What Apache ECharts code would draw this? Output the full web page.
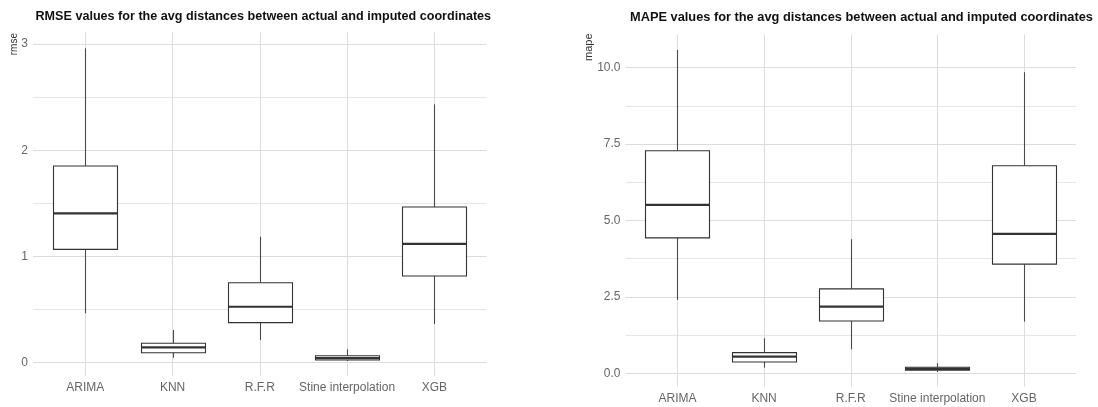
<!DOCTYPE html>
<html><head><meta charset="utf-8">
<script src="https://cdn.jsdelivr.net/npm/echarts@6/dist/echarts.min.js"></script>
<style>html,body{margin:0;padding:0;background:#fff}#c{width:1098px;height:407px}</style>
</head><body><div id="c"></div>
<script>
const categories = ['ARIMA', 'KNN', 'R.F.R', 'Stine interpolation', 'XGB'];
// each row: [lower whisker, Q1, median, Q3, upper whisker]
const rmseStats = [
  [0.465, 1.067, 1.406, 1.852, 2.96],
  [0.047, 0.094, 0.145, 0.183, 0.308],
  [0.214, 0.377, 0.527, 0.753, 1.186],
  [0.016, 0.025, 0.044, 0.066, 0.126],
  [0.364, 0.816, 1.118, 1.466, 2.432]
];
const mapeStats = [
  [2.40, 4.43, 5.51, 7.28, 10.58],
  [0.183, 0.37, 0.543, 0.674, 1.145],
  [0.785, 1.71, 2.18, 2.76, 4.385],
  [0.04, 0.098, 0.14, 0.196, 0.327],
  [1.69, 3.57, 4.56, 6.79, 9.85]
];
const rmseMajorTicks = [0, 1, 2, 3];
const rmseTickLabels = ['0', '1', '2', '3'];
const rmseMinorTicks = [0.5, 1.5, 2.5];
const mapeMajorTicks = [0, 2.5, 5, 7.5, 10];
const mapeTickLabels = ['0.0', '2.5', '5.0', '7.5', '10.0'];
const mapeMinorTicks = [1.25, 3.75, 6.25, 8.75];
const chartTitles = [
  'RMSE values for the avg distances between actual and imputed coordinates',
  'MAPE values for the avg distances between actual and imputed coordinates'
];
const yNames = ['rmse', 'mape'];

const FONT = 'Liberation Sans, Arial, sans-serif';
const panels = [
  { stats: rmseStats, major: rmseMajorTicks, labels: rmseTickLabels, minor: rmseMinorTicks,
    grid: { left: 33, top: 32.3, width: 453.7, height: 343.7 }, ymin: -0.125, ymax: 3.11,
    title: { left: 30.5, top: 5, size: 12.6 }, yName: { x: 14, y: 33, size: 10 } },
  { stats: mapeStats, major: mapeMajorTicks, labels: mapeTickLabels, minor: mapeMinorTicks,
    grid: { left: 625.5, top: 34.3, width: 450.5, height: 352.4 }, ymin: -0.44, ymax: 11.09,
    title: { left: 625, top: 6, size: 12.8 }, yName: { x: 589, y: 33.5, size: 11 } }
];

function renderBox(params, api) {
  const x = api.value(0);
  const lo = api.coord([x, api.value(1)])[1];
  const q1 = api.coord([x, api.value(2)])[1];
  const med = api.coord([x, api.value(3)]);
  const q3 = api.coord([x, api.value(4)])[1];
  const hi = api.coord([x, api.value(5)])[1];
  const w = api.size([0.75, 0])[0];
  const cx = Math.round(med[0]) + 0.5;
  const x0 = Math.round(cx - w / 2) + 0.5;
  const x1 = Math.round(cx + w / 2) - 0.5;
  const stroke = '#333333';
  return {
    type: 'group',
    children: [
      { type: 'line', shape: { x1: cx, y1: q1, x2: cx, y2: lo }, style: { stroke: '#4a4a4a', lineWidth: 1.1 } },
      { type: 'line', shape: { x1: cx, y1: q3, x2: cx, y2: hi }, style: { stroke: '#4a4a4a', lineWidth: 1.1 } },
      { type: 'rect', shape: { x: x0, y: q3, width: x1 - x0, height: q1 - q3 }, style: { fill: '#ffffff', stroke: stroke, lineWidth: 1.1 } },
      { type: 'line', shape: { x1: x0, y1: med[1], x2: x1, y2: med[1] }, style: { stroke: stroke, lineWidth: 2.2 } }
    ]
  };
}

const option = {
  backgroundColor: '#ffffff',
  animation: false,
  title: [], grid: [], xAxis: [], yAxis: [], series: [], graphic: []
};

panels.forEach((p, i) => {
  option.title.push({
    text: chartTitles[i], left: p.title.left, top: p.title.top,
    textStyle: { fontFamily: FONT, fontWeight: 'bold', fontSize: p.title.size, color: '#111' }
  });
  option.grid.push(Object.assign({ containLabel: false }, p.grid));
  option.xAxis.push({
    gridIndex: i, type: 'value', min: -0.6, max: 4.6,
    axisLine: { show: false },
    axisTick: { show: false, customValues: [0, 1, 2, 3, 4] },
    axisLabel: { customValues: [0, 1, 2, 3, 4], formatter: v => categories[Math.round(v)],
      color: '#666', fontSize: 12, fontFamily: FONT, margin: 6 },
    splitLine: { show: true, lineStyle: { color: '#dcdcdc', width: 1 } }
  });
  option.yAxis.push({
    gridIndex: i, type: 'value', min: p.ymin, max: p.ymax,
    axisLine: { show: false },
    axisTick: { show: false, customValues: p.major },
    axisLabel: { customValues: p.major, formatter: v => p.labels[p.major.indexOf(v)],
      color: '#666', fontSize: 12, fontFamily: FONT, margin: 5 },
    splitLine: { show: true, lineStyle: { color: '#dcdcdc', width: 1 } }
  });
  option.yAxis.push({
    gridIndex: i, type: 'value', min: p.ymin, max: p.ymax, position: 'left',
    axisLine: { show: false },
    axisTick: { show: false, customValues: p.minor },
    axisLabel: { show: false, customValues: p.minor },
    splitLine: { show: true, lineStyle: { color: '#e6e6e6', width: 1 } }
  });
  option.series.push({
    type: 'custom', xAxisIndex: i, yAxisIndex: i * 2,
    renderItem: renderBox,
    encode: { x: 0, y: [1, 2, 3, 4, 5] },
    data: p.stats.map((s, k) => [k].concat(s)),
    z: 5
  });
  option.graphic.push({
    type: 'text', x: p.yName.x, y: p.yName.y, rotation: Math.PI / 2,
    style: { text: yNames[i], fontFamily: FONT, fontSize: p.yName.size, fill: '#333',
      align: 'right', verticalAlign: 'middle' }
  });
});

const chart = echarts.init(document.getElementById('c'), null, { renderer: 'canvas' });
chart.setOption(option);
</script>
</body></html>
